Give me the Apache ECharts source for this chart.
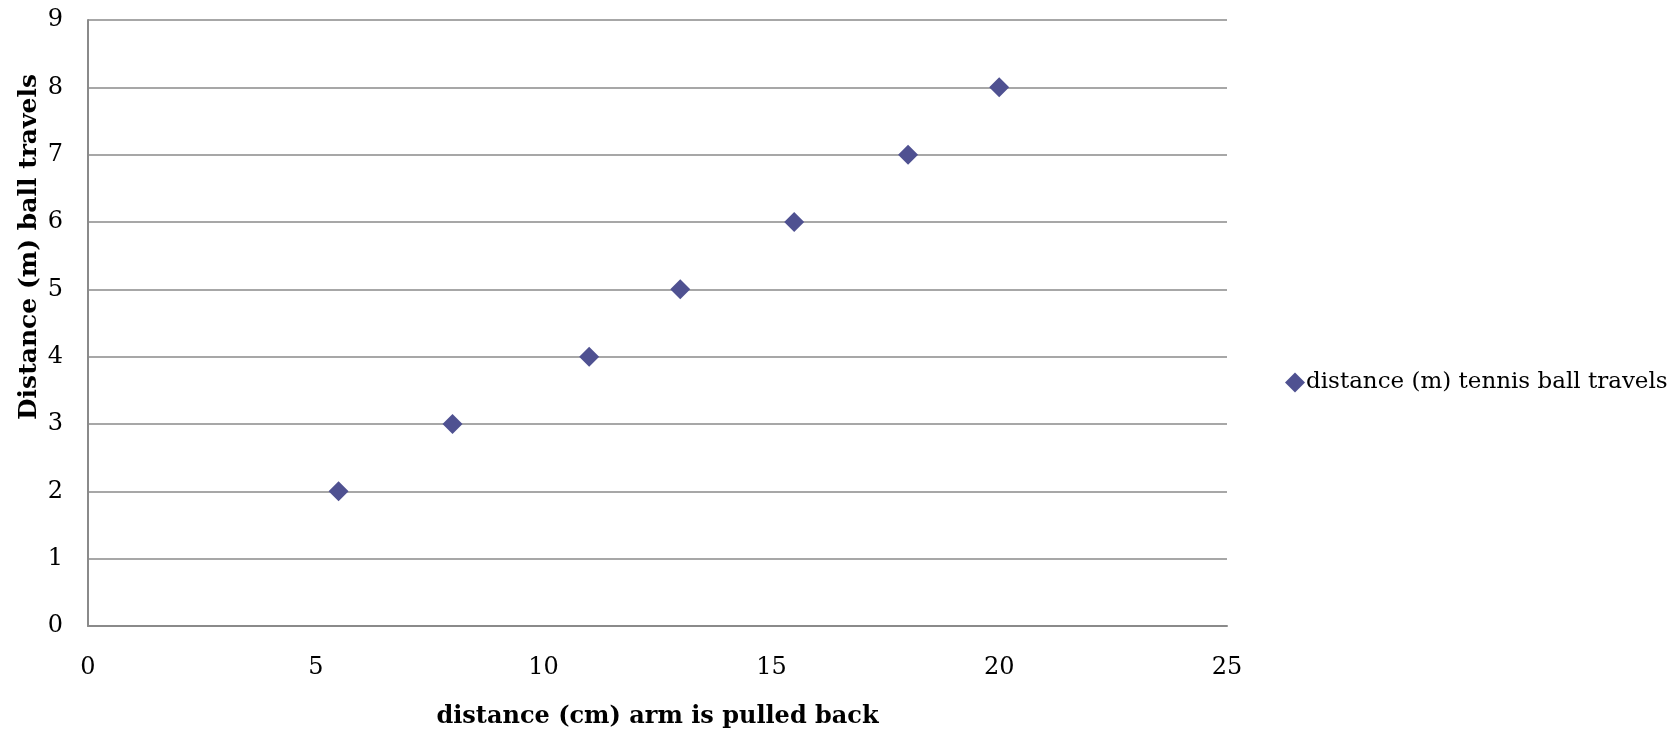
<!DOCTYPE html>
<html>
<head>
<meta charset="utf-8">
<script src="https://cdn.jsdelivr.net/npm/echarts@6/dist/echarts.min.js"></script>
<style>html,body{margin:0;padding:0;background:#fff;}#c{width:1680px;height:734px;}</style>
</head>
<body>
<div id="c"></div>
<script>
const seriesName = 'distance (m) tennis ball travels';
const xValues = [5.5, 8, 11, 13, 15.5, 18, 20];
const yValues = [2, 3, 4, 5, 6, 7, 8];
const xTitle = 'distance (cm) arm is pulled back';
const yTitle = 'Distance (m) ball travels';

const font = '"DejaVu Serif", "Liberation Serif", serif';
const chart = echarts.init(document.getElementById('c'));
chart.setOption({
  animation: false,
  backgroundColor: '#fff',
  grid: { left: 88, right: 453, top: 20, bottom: 107, containLabel: false },
  legend: {
    data: [{ name: seriesName, icon: 'diamond' }],
    orient: 'vertical',
    left: 1280, top: 366,
    itemWidth: 20, itemHeight: 20, itemGap: 0,
    textStyle: { fontFamily: font, fontSize: 23, color: '#000', padding: [0,0,0,-4] }
  },
  xAxis: {
    type: 'value', min: 0, max: 25, interval: 5,
    name: xTitle, nameLocation: 'middle', nameGap: 79,
    nameTextStyle: { fontFamily: font, fontSize: 24, fontWeight: 'bold', color: '#000' },
    axisLine: { show: true, lineStyle: { color: '#8a8a8a', width: 2 } },
    axisTick: { show: false },
    splitLine: { show: false },
    axisLabel: { fontFamily: font, fontSize: 24, color: '#000', margin: 30 }
  },
  yAxis: {
    type: 'value', min: 0, max: 9, interval: 1,
    axisLine: { show: true, lineStyle: { color: '#8a8a8a', width: 2 } },
    axisTick: { show: false },
    splitLine: { show: true, lineStyle: { color: '#8a8a8a', width: 1.5 } },
    axisLabel: { fontFamily: font, fontSize: 24, color: '#000', margin: 25 }
  },
  graphic: [{
    type: 'text',
    x: 29, y: 247,
    rotation: Math.PI / 2,
    style: { text: yTitle, fontFamily: font, fontSize: 25, fontWeight: 'bold', fill: '#000', align: 'center', verticalAlign: 'middle' }
  }],
  series: [{
    name: seriesName,
    type: 'scatter',
    symbol: 'diamond',
    symbolSize: 20,
    itemStyle: { color: '#4f5191', opacity: 1 },
    data: xValues.map((x, i) => [x, yValues[i]])
  }]
});
</script>
</body>
</html>
